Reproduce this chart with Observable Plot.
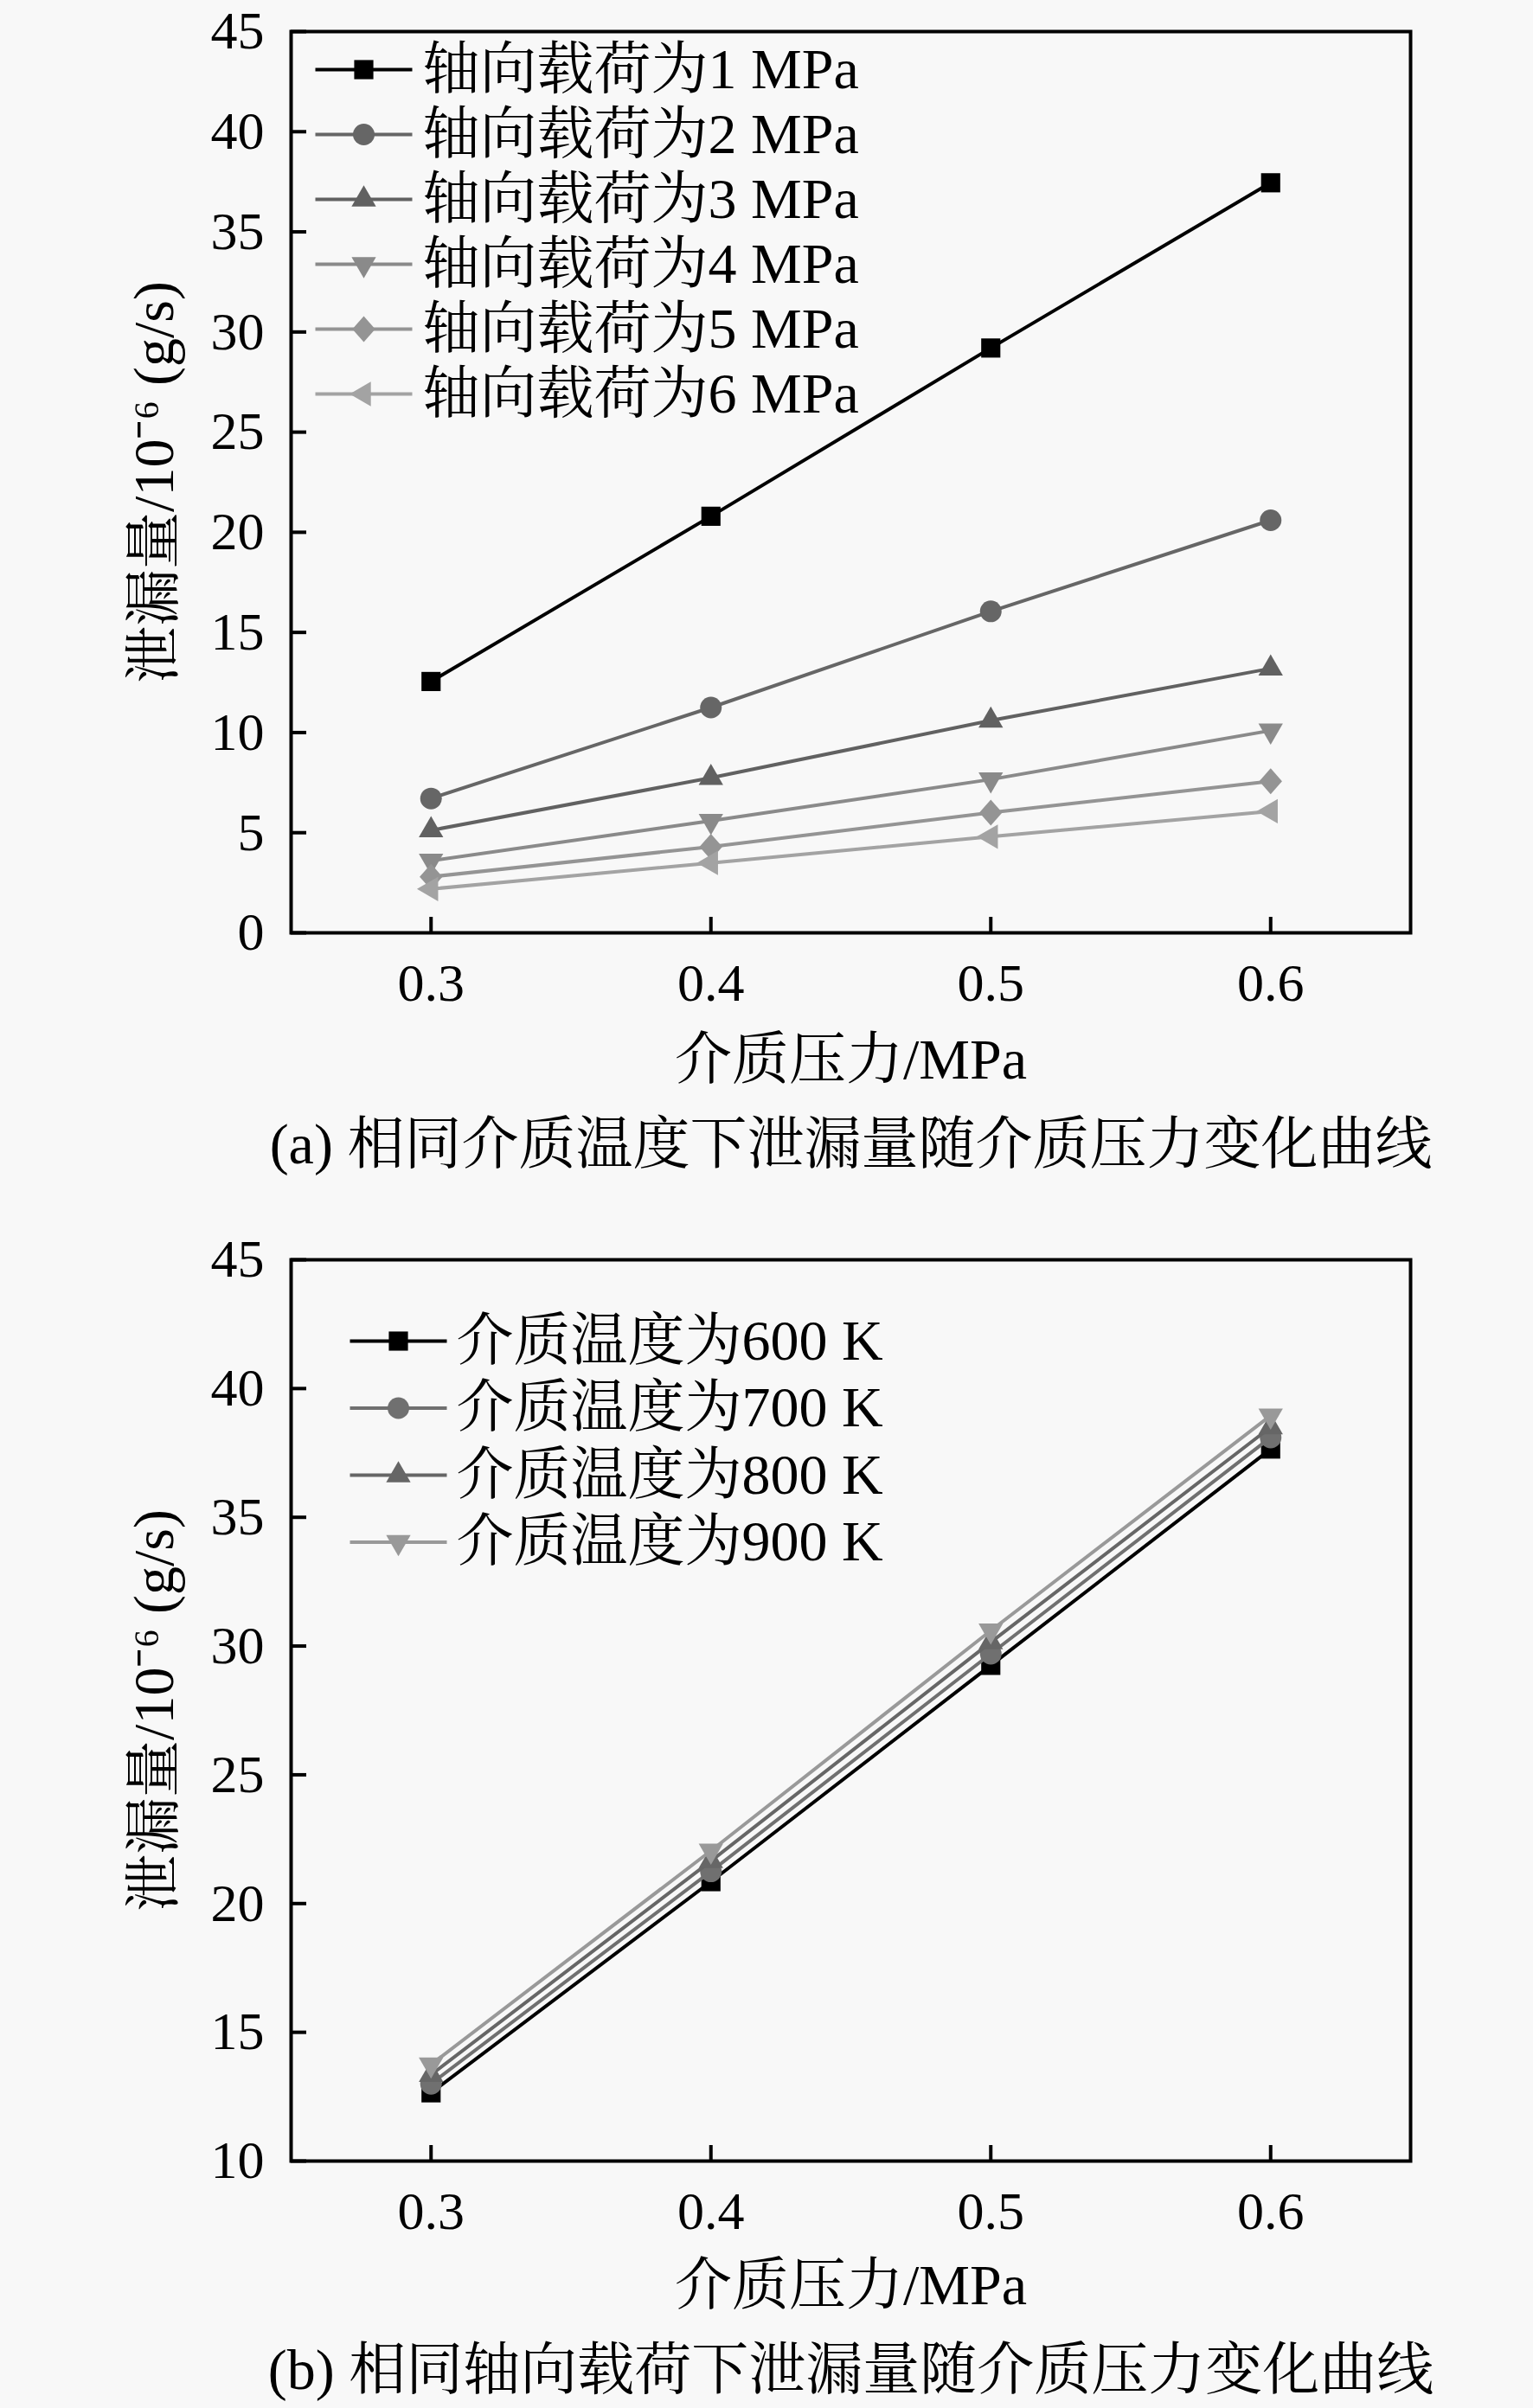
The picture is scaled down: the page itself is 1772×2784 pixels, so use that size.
<!DOCTYPE html>
<html><head><meta charset="utf-8">
<script src="https://cdn.jsdelivr.net/npm/d3@7"></script>
<script src="https://cdn.jsdelivr.net/npm/@observablehq/plot@0.6"></script>
<style>
html,body{margin:0;padding:0;background:#f8f8f8;}
#wrap{width:1772px;height:2784px;position:relative;overflow:hidden;}
#wrap svg{display:block;}
</style></head><body><div id="wrap"></div>
<script>
// ---- data ----
const pressure = [0.3, 0.4, 0.5, 0.6];
const xTicks = [0.3, 0.4, 0.5, 0.6];
const yTicksA = [0, 5, 10, 15, 20, 25, 30, 35, 40, 45];
const yTicksB = [10, 15, 20, 25, 30, 35, 40, 45];

const loadNames = ["轴向载荷为1 MPa", "轴向载荷为2 MPa", "轴向载荷为3 MPa", "轴向载荷为4 MPa", "轴向载荷为5 MPa", "轴向载荷为6 MPa"];
const load1 = [12.55, 20.8, 29.2, 37.45];
const load2 = [6.71, 11.25, 16.05, 20.6];
const load3 = [5.12, 7.74, 10.6, 13.2];
const load4 = [3.6, 5.59, 7.66, 10.1];
const load5 = [2.8, 4.3, 6.0, 7.57];
const load6 = [2.19, 3.49, 4.8, 6.07];

const tempNames = ["介质温度为600 K", "介质温度为700 K", "介质温度为800 K", "介质温度为900 K"];
const temp600 = [12.65, 20.85, 29.25, 37.65];
const temp700 = [13.0, 21.25, 29.7, 38.1];
const temp800 = [13.35, 21.65, 30.15, 38.5];
const temp900 = [13.75, 22.05, 30.6, 38.95];

const xLabel = "介质压力/MPa";
const yLabel = "泄漏量/10⁻⁶ (g/s)";
const captionA = "(a) 相同介质温度下泄漏量随介质压力变化曲线";
const captionB = "(b) 相同轴向载荷下泄漏量随介质压力变化曲线";

// ---- symbols ----
const sqrt3 = Math.sqrt(3);
function triRot(rot) {
  return {draw(ctx, size) {
    const y = -Math.sqrt(size / (sqrt3 * 3));
    const pts = [[0, y * 2], [-sqrt3 * y, -y], [sqrt3 * y, -y]];
    const c = Math.cos(rot), s = Math.sin(rot);
    pts.forEach(([px, py], i) => {
      const X = px * c - py * s, Y = px * s + py * c;
      i ? ctx.lineTo(X, Y) : ctx.moveTo(X, Y);
    });
    ctx.closePath();
  }};
}
const triUp = triRot(0), triDown = triRot(Math.PI), triLeft = triRot(-Math.PI / 2);
const diamond = {draw(ctx, size) {
  const r = Math.sqrt(size / Math.PI);
  ctx.moveTo(0, -1.25 * r); ctx.lineTo(1.1 * r, 0); ctx.lineTo(0, 1.25 * r); ctx.lineTo(-1.1 * r, 0); ctx.closePath();
}};
const hline = {draw(ctx) { ctx.moveTo(-56, 0); ctx.lineTo(56, 0); }};

const FONT = "'Liberation Serif', 'Noto Serif CJK SC', 'Noto Sans CJK SC', serif";

function panel(cfg) {
  const marks = [];
  cfg.series.forEach((vals, i) => {
    const rows = pressure.map((p, j) => ({p, v: vals[j]}));
    marks.push(Plot.line(rows, {x: "p", y: "v", stroke: cfg.colors[i], strokeWidth: 4}));
    marks.push(Plot.dot(rows, {x: "p", y: "v", symbol: cfg.symbols[i], r: cfg.sizes[i], fill: cfg.colors[i], stroke: "none"}));
  });
  // legend
  cfg.names.forEach((n, i) => {
    const dy = cfg.legend.top + i * cfg.legend.step;
    marks.push(Plot.dot([n], {frameAnchor: "top-left", dx: cfg.legend.lx, dy, symbol: hline, r: 10, fill: "none", stroke: cfg.colors[i], strokeWidth: 4}));
    marks.push(Plot.dot([n], {frameAnchor: "top-left", dx: cfg.legend.lx, dy, symbol: cfg.symbols[i], r: cfg.sizes[i], fill: cfg.colors[i], stroke: "none"}));
    marks.push(Plot.text([n], {frameAnchor: "top-left", dx: cfg.legend.tx, dy, textAnchor: "start", lineAnchor: "middle", fontSize: 66, fill: "black"}));
  });
  marks.push(Plot.axisX(xTicks, {anchor: "bottom", tickSize: -18, tickPadding: 52, strokeWidth: 4, fontSize: 62, tickFormat: d => d.toFixed(1), label: null}));
  marks.push(Plot.axisY(cfg.yTicks, {anchor: "left", tickSize: -18, tickPadding: 49, strokeWidth: 4, fontSize: 62, label: null}));
  marks.push(Plot.frame({stroke: "black", strokeWidth: 4}));
  marks.push(Plot.text([yLabel], {frameAnchor: "left", dx: -158, rotate: -90, textAnchor: "middle", lineAnchor: "middle", fontSize: 66, fill: "black"}));
  marks.push(Plot.text([xLabel], {frameAnchor: "bottom", dy: cfg.xLabelDy, textAnchor: "middle", lineAnchor: "middle", fontSize: 66, fill: "black"}));
  marks.push(Plot.text([cfg.caption], {frameAnchor: "bottom", dy: cfg.captionDy, textAnchor: "middle", lineAnchor: "middle", fontSize: 66, fill: "black"}));
  return Plot.plot({
    width: 1772, height: 1392,
    marginLeft: 336, marginRight: 142, marginTop: cfg.marginTop, marginBottom: cfg.marginBottom,
    x: {domain: [0.25, 0.65]},
    y: {domain: cfg.yDomain},
    style: {background: "#f8f8f8", fontFamily: FONT, fontSize: "62px", color: "black", overflow: "visible"},
    marks
  });
}

const wrap = document.getElementById("wrap");
wrap.appendChild(panel({
  names: loadNames,
  series: [load1, load2, load3, load4, load5, load6],
  colors: ["#000000", "#666666", "#616161", "#8a8a8a", "#949494", "#a3a3a3"],
  symbols: ["square", "circle", triUp, triDown, diamond, triLeft],
  sizes: [12.5, 12.5, 10.5, 10.5, 12, 10.5],
  yDomain: [0, 45], yTicks: yTicksA,
  marginTop: 36, marginBottom: 314,
  legend: {lx: 84, tx: 152, top: 44, step: 75},
  xLabelDy: 147, captionDy: 245, caption: captionA
}));
wrap.appendChild(panel({
  names: tempNames,
  series: [temp600, temp700, temp800, temp900],
  colors: ["#000000", "#707070", "#666666", "#999999"],
  symbols: ["square", "circle", triUp, triDown],
  sizes: [12.5, 12.5, 10.5, 10.5],
  yDomain: [10, 45], yTicks: yTicksB,
  marginTop: 64, marginBottom: 286,
  legend: {lx: 124, tx: 191, top: 94, step: 77.5},
  xLabelDy: 144, captionDy: 242, caption: captionB
}));
</script></body></html>
